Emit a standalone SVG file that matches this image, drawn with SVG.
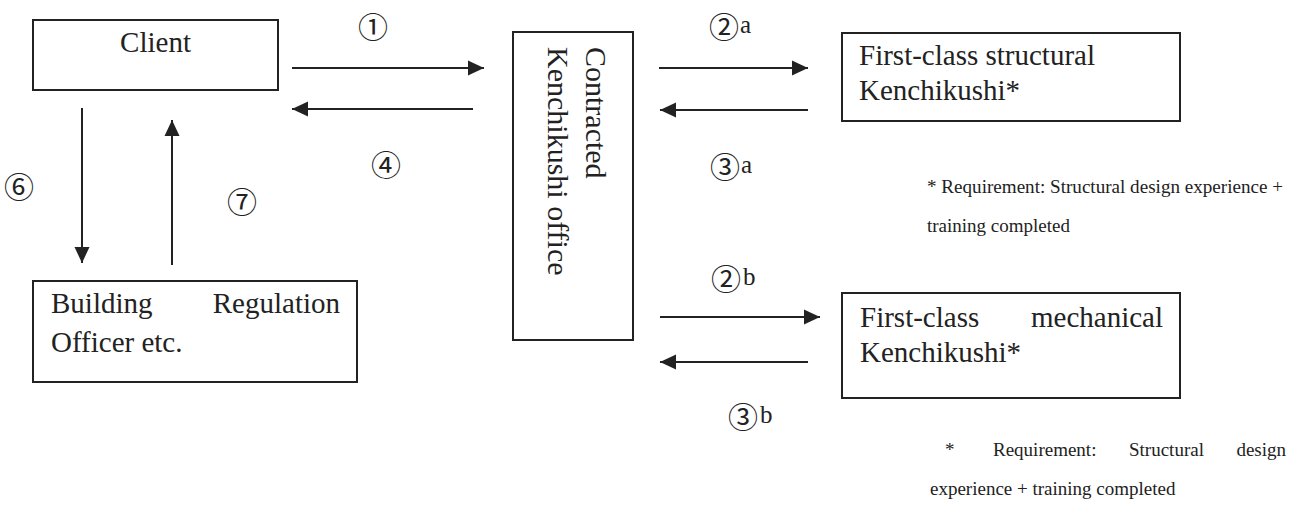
<svg xmlns="http://www.w3.org/2000/svg" width="1303" height="507" viewBox="0 0 1303 507">
<defs>
<style>
.box{fill:#fff;stroke:#222;stroke-width:2}
.lbl{font-family:'Liberation Serif','DejaVu Serif','Noto Serif',serif;font-size:29px;fill:#222}
.note{font-family:'Liberation Serif','DejaVu Serif','Noto Serif',serif;font-size:19px;fill:#222}
.num{font-family:'Noto Sans CJK JP','DejaVu Sans',sans-serif;font-size:30px;fill:#222;text-anchor:middle;dominant-baseline:central}
.suf{font-family:'Liberation Serif','DejaVu Serif','Noto Serif',serif;font-size:25px;fill:#222}
.ln{stroke:#222;stroke-width:2;fill:none;marker-end:url(#ah)}
</style>
<marker id="ah" viewBox="0 0 16 16" refX="16" refY="8" markerWidth="16" markerHeight="16" markerUnits="userSpaceOnUse" orient="auto">
<path d="M0,0.5 L16,8 L0,15.5 Z" fill="#222"/>
</marker>
</defs>
<rect width="1303" height="507" fill="#fff"/>
<g id="connectors">
<line class="ln" x1="292" y1="68" x2="484" y2="68"/>
<line class="ln" x1="473" y1="109" x2="292" y2="109"/>
<line class="ln" x1="659" y1="68" x2="808" y2="68"/>
<line class="ln" x1="808" y1="110" x2="660" y2="110"/>
<line class="ln" x1="660" y1="317" x2="820" y2="317"/>
<line class="ln" x1="808" y1="362" x2="660" y2="362"/>
<line class="ln" x1="82" y1="108" x2="82" y2="263"/>
<line class="ln" x1="172" y1="265" x2="172" y2="120"/>
</g>
<g id="labels">
<text class="num" x="373" y="25">①</text>
<text class="num" x="386" y="163">④</text>
<text class="num" x="724" y="25">②</text><text class="suf" x="740" y="33">a</text>
<text class="num" x="725" y="165">③</text><text class="suf" x="741" y="173">a</text>
<text class="num" x="726" y="277">②</text><text class="suf" x="743" y="285">b</text>
<text class="num" x="743" y="415">③</text><text class="suf" x="760" y="423">b</text>
<text class="num" x="19" y="185">⑥</text>
<text class="num" x="242" y="200">⑦</text>
</g>
<g id="client">
<rect class="box" x="33" y="20" width="245" height="70"/>
<text class="lbl" x="155.5" y="52" text-anchor="middle">Client</text>
</g>
<g id="office">
<rect class="box" x="513" y="32" width="120" height="308"/>
<text class="lbl" style="font-size:30px" transform="translate(586,47) rotate(90)">Contracted</text>
<text class="lbl" style="font-size:30px" transform="translate(548,47) rotate(90)">Kenchikushi office</text>
</g>
<g id="officer">
<rect class="box" x="33" y="281" width="324" height="101"/>
<text class="lbl" x="51" y="313">Building</text>
<text class="lbl" x="340" y="313" text-anchor="end">Regulation</text>
<text class="lbl" x="51" y="352">Officer etc.</text>
</g>
<g id="structural">
<rect class="box" x="842" y="33" width="338" height="88"/>
<text class="lbl" x="859" y="65">First-class structural</text>
<text class="lbl" x="859" y="100">Kenchikushi*</text>
</g>
<g id="mechanical">
<rect class="box" x="842" y="293" width="338" height="105"/>
<text class="lbl" x="860" y="327">First-class</text>
<text class="lbl" x="1163" y="327" text-anchor="end">mechanical</text>
<text class="lbl" x="860" y="362">Kenchikushi*</text>
</g>
<g id="note1">
<text class="note" x="927" y="193" textLength="356" lengthAdjust="spacingAndGlyphs">* Requirement: Structural design experience +</text>
<text class="note" x="927" y="232">training completed</text>
</g>
<g id="note2">
<text class="note" x="945" y="456">*</text>
<text class="note" x="993" y="456">Requirement:</text>
<text class="note" x="1129" y="456">Structural</text>
<text class="note" x="1286" y="456" text-anchor="end">design</text>
<text class="note" x="930" y="495">experience + training completed</text>
</g>
</svg>
